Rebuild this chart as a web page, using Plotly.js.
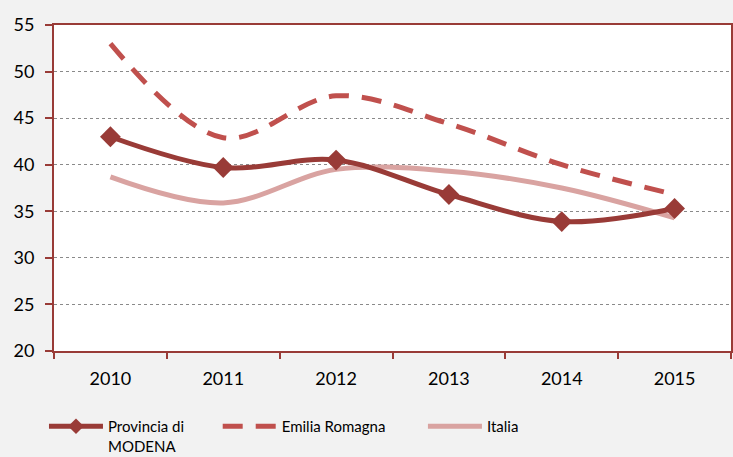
<!DOCTYPE html>
<html>
<head>
<meta charset="utf-8">
<script src="https://cdn.plot.ly/plotly-3.0.1.min.js"></script>
<style>html,body{margin:0;padding:0;background:#f2f2f2;}#chart{width:733px;height:457px;}</style>
</head>
<body>
<div id="chart"></div>
<script>
const years = ['2010', '2011', '2012', '2013', '2014', '2015'];
const modena = [43.0, 39.7, 40.5, 36.8, 33.9, 35.3];
const emilia = [53.0, 42.9, 47.4, 44.4, 40.0, 36.8];
const italia = [38.7, 35.9, 39.5, 39.3, 37.5, 34.3];
const yTicks = [20, 25, 30, 35, 40, 45, 50, 55];

const FONT = 'Lato, "Open Sans", sans-serif';

const traces = [
  {
    x: years, y: italia, name: 'Italia', type: 'scatter', mode: 'lines',
    line: {color: '#d9a3a1', width: 5, shape: 'spline', smoothing: 1},
    legend: 'legend3'
  },
  {
    x: years, y: emilia, name: 'Emilia Romagna', type: 'scatter', mode: 'lines',
    line: {color: '#c0504d', width: 5, shape: 'spline', smoothing: 1, dash: '20px,13px'},
    legend: 'legend2'
  },
  {
    x: years, y: modena, name: 'Provincia di<br>MODENA', type: 'scatter', mode: 'lines+markers',
    line: {color: '#993b37', width: 5, shape: 'spline', smoothing: 1},
    marker: {symbol: 'diamond', size: 16, color: '#993b37'},
    legend: 'legend'
  }
];

const legendBase = {
  orientation: 'h', xanchor: 'left', yanchor: 'top', y: 0.103, yref: 'container',
  bgcolor: 'rgba(0,0,0,0)', font: {family: FONT, size: 15, color: '#000'},
  itemwidth: 54, valign: 'top', tracegroupgap: 0, itemsizing: 'constant'
};

const layout = {
  width: 733, height: 457,
  paper_bgcolor: '#f2f2f2', plot_bgcolor: '#ffffff',
  margin: {l: 54, r: 2, t: 25, b: 106, autoexpand: false},
  font: {family: FONT, size: 16, color: '#000'},
  showlegend: true,
  xaxis: {
    type: 'category', range: [-0.5, 5.5], fixedrange: true,
    showline: true, linecolor: '#993b37', linewidth: 2, mirror: true,
    ticks: 'outside', tickson: 'boundaries', ticklen: 6, tickcolor: '#993b37', tickwidth: 2,
    showgrid: false, ticklabelstandoff: 10,
    tickfont: {family: FONT, size: 18, color: '#000'}
  },
  yaxis: {
    range: [20, 55], tickvals: yTicks, ticktext: yTicks.map(String),
    showline: true, linecolor: '#993b37', linewidth: 2, mirror: true,
    ticks: 'outside', ticklen: 7, tickcolor: '#993b37', tickwidth: 2,
    showgrid: true, gridcolor: '#8a8a8a', gridwidth: 1, griddash: 'dot',
    zeroline: false, ticklabelstandoff: 7,
    tickfont: {family: FONT, size: 18, color: '#000'}
  },
  legend: Object.assign({}, legendBase, {x: 0.06, xref: 'container'}),
  legend2: Object.assign({}, legendBase, {x: 0.297, xref: 'container'}),
  legend3: Object.assign({}, legendBase, {x: 0.577, xref: 'container'})
};

Plotly.newPlot('chart', traces, layout, {displayModeBar: false, staticPlot: true});
</script>
</body>
</html>
